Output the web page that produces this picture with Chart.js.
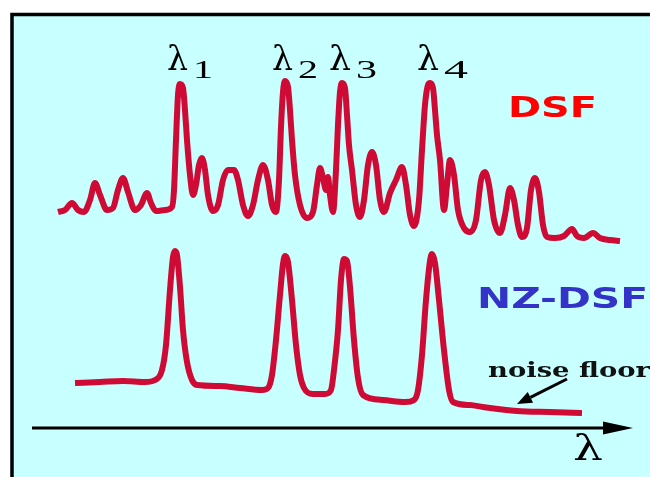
<!DOCTYPE html>
<html>
<head>
<meta charset="utf-8">
<script src="https://cdn.jsdelivr.net/npm/chart.js@4.4.1/dist/chart.umd.min.js"></script>
<style>
  html, body { margin: 0; padding: 0; background: #ffffff; }
  #wrap { width: 650px; height: 477px; }
</style>
</head>
<body>
<div id="wrap"><canvas id="myChart" width="650" height="477"></canvas></div>
<script>
// wavelength position (x) and power level (y)
const dsfX = [58, 65, 72, 78, 84, 90, 95, 100, 107, 113, 118, 123, 128, 135, 141, 147, 151, 156, 165, 172,
  174, 176, 178, 180, 183, 185, 187, 190, 193, 196, 199, 202, 205, 208, 213, 218, 223, 228, 234, 238, 243, 248,
  253, 258, 263, 268, 272, 276, 279, 281, 283, 285, 288, 290, 292, 295, 300, 307, 313, 317, 320, 323, 326, 328,
  330, 333, 336, 338, 340, 342, 345, 347, 349, 352, 356, 360, 364, 368, 372, 376, 380, 384, 390, 396, 402, 406,
  410, 414, 419, 422, 425, 428, 430, 433, 435, 437, 440, 444, 447, 450, 454, 458, 464, 470, 476, 481, 485, 489,
  494, 500, 505, 510, 514, 518, 522, 527, 531, 535, 539, 543, 547, 555, 564, 572, 577, 584, 593, 600,
  610, 620];
const dsfY = [265, 267, 274, 267, 265, 277, 294, 282, 267, 269, 287, 299, 285, 267, 272, 284, 274, 266, 267, 270,
  287, 337, 382, 393, 389, 367, 337, 302, 282, 292, 312, 319, 307, 282, 266, 272, 297, 307, 307, 297, 272, 261,
  272, 297, 312, 297, 272, 265, 297, 350, 385, 396, 390, 367, 337, 302, 272, 259, 265, 292, 309, 299, 287, 300,
  282, 265, 307, 352, 385, 394, 389, 362, 332, 307, 272, 260, 277, 312, 325, 312, 277, 265, 284, 297, 310, 292,
  262, 251, 277, 327, 372, 392, 394, 389, 367, 342, 317, 267, 292, 317, 302, 267, 249, 245, 257, 297, 305, 292,
  257, 244, 262, 289, 277, 252, 240, 249, 287, 299, 285, 252, 240, 239, 241, 248, 241, 239, 244, 239,
  237, 236];

const nzX = [75, 100, 123, 145, 155, 162, 166, 170, 173, 175, 177, 180, 183, 187, 192, 197, 220, 240, 262, 268,
  272, 276, 280, 283, 285, 288, 292, 296, 300, 304, 313, 325, 331, 334, 338, 341, 344, 347, 350, 354,
  358, 363, 383, 405, 414, 418, 422, 426, 430, 432, 435, 439, 444, 449, 453, 470, 483, 517, 550, 582];
const nzY = [94, 95, 96, 95, 97, 107, 132, 187, 220, 226, 222, 190, 147, 115, 97, 92, 91, 89, 87, 89,
  102, 137, 182, 213, 221, 215, 177, 132, 102, 89, 83, 83, 87, 107, 147, 197, 218, 216, 190, 137,
  99, 82, 77, 75, 77, 87, 122, 177, 216, 223, 214, 177, 127, 87, 75, 72, 70, 66, 65, 64];

const seriesNames = ['DSF', 'NZ-DSF'];
const peakNames = ['1', '2', '3', '4'];
const peakX = [180, 285, 342, 430];

const traceColor = '#cf0b35';

function pts(xs, ys) {
  return xs.map((x, i) => ({ x: x, y: ys[i] }));
}

// draw text squeezed/stretched to a given width
function fitText(ctx, txt, x, y, font, color, w) {
  ctx.save();
  ctx.font = font;
  const m = ctx.measureText(txt).width;
  ctx.translate(x, y);
  ctx.scale(w / m, 1);
  ctx.fillStyle = color;
  ctx.textBaseline = 'alphabetic';
  ctx.fillText(txt, 0, 0);
  ctx.restore();
}

function arrow(ctx, x1, y1, x2, y2, lw, head, half) {
  const a = Math.atan2(y2 - y1, x2 - x1);
  ctx.save();
  ctx.strokeStyle = '#000';
  ctx.fillStyle = '#000';
  ctx.lineWidth = lw;
  ctx.beginPath();
  ctx.moveTo(x1, y1);
  ctx.lineTo(x2 - head * Math.cos(a), y2 - head * Math.sin(a));
  ctx.stroke();
  ctx.translate(x2, y2);
  ctx.rotate(a);
  ctx.beginPath();
  ctx.moveTo(0, 0);
  ctx.lineTo(-head, -half);
  ctx.lineTo(-head, half);
  ctx.closePath();
  ctx.fill();
  ctx.restore();
}

const frame = {
  id: 'frame',
  beforeDraw(chart) {
    const ctx = chart.ctx;
    ctx.save();
    ctx.fillStyle = '#ffffff';
    ctx.fillRect(0, 0, chart.width, chart.height);
    ctx.fillStyle = '#c8ffff';
    ctx.fillRect(10, 13, chart.width, chart.height);
    ctx.strokeStyle = '#000';
    ctx.lineWidth = 3.5;
    ctx.beginPath();
    ctx.moveTo(12, chart.height + 5);
    ctx.lineTo(12, 14.5);
    ctx.lineTo(chart.width + 5, 14.5);
    ctx.stroke();
    ctx.restore();
  },
  afterDraw(chart) {
    const ctx = chart.ctx;
    const sx = chart.scales.x, sy = chart.scales.y;
    // wavelength axis
    arrow(ctx, 32, sy.getPixelForValue(49), 633, sy.getPixelForValue(49), 3, 30, 6.5);
    fitText(ctx, 'λ', 573, 460, '35px "DejaVu Serif"', '#000', 30);

    // channel labels above the peaks
    const lamW = [21, 21, 22, 22];
    const subW = [20, 20, 21, 24];
    peakNames.forEach((n, i) => {
      const x0 = sx.getPixelForValue(peakX[i]) - 13;
      fitText(ctx, 'λ', x0, 70, '33px "DejaVu Serif"', '#000', lamW[i]);
      fitText(ctx, n, x0 + lamW[i] + 5, 78, '26px "Liberation Serif"', '#000', subW[i]);
    });

    fitText(ctx, seriesNames[0], 508, 117, 'bold 28px "DejaVu Sans"', '#ff0000', 89);
    fitText(ctx, seriesNames[1], 477, 308, 'bold 28px "DejaVu Sans"', '#3333c8', 171);

    fitText(ctx, 'noise floor', 488, 377, 'bold 20px "DejaVu Serif"', '#111', 162);
    arrow(ctx, 567, 379, 517, 404, 3, 15, 6);
  }
};

const ctx = document.getElementById('myChart').getContext('2d');
const myChart = new Chart(ctx, {
  type: 'line',
  data: {
    datasets: [
      { label: seriesNames[0], data: pts(dsfX, dsfY), borderColor: traceColor, borderWidth: 6,
        pointRadius: 0, cubicInterpolationMode: 'monotone', fill: false },
      { label: seriesNames[1], data: pts(nzX, nzY), borderColor: traceColor, borderWidth: 6,
        pointRadius: 0, cubicInterpolationMode: 'monotone', fill: false }
    ]
  },
  options: {
    responsive: false,
    animation: false,
    layout: { padding: 0 },
    plugins: { legend: { display: false }, tooltip: { enabled: false } },
    scales: {
      x: { type: 'linear', min: 0, max: 650, display: false },
      y: { type: 'linear', min: 0, max: 477, display: false }
    }
  },
  plugins: [frame]
});
</script>
</body>
</html>
